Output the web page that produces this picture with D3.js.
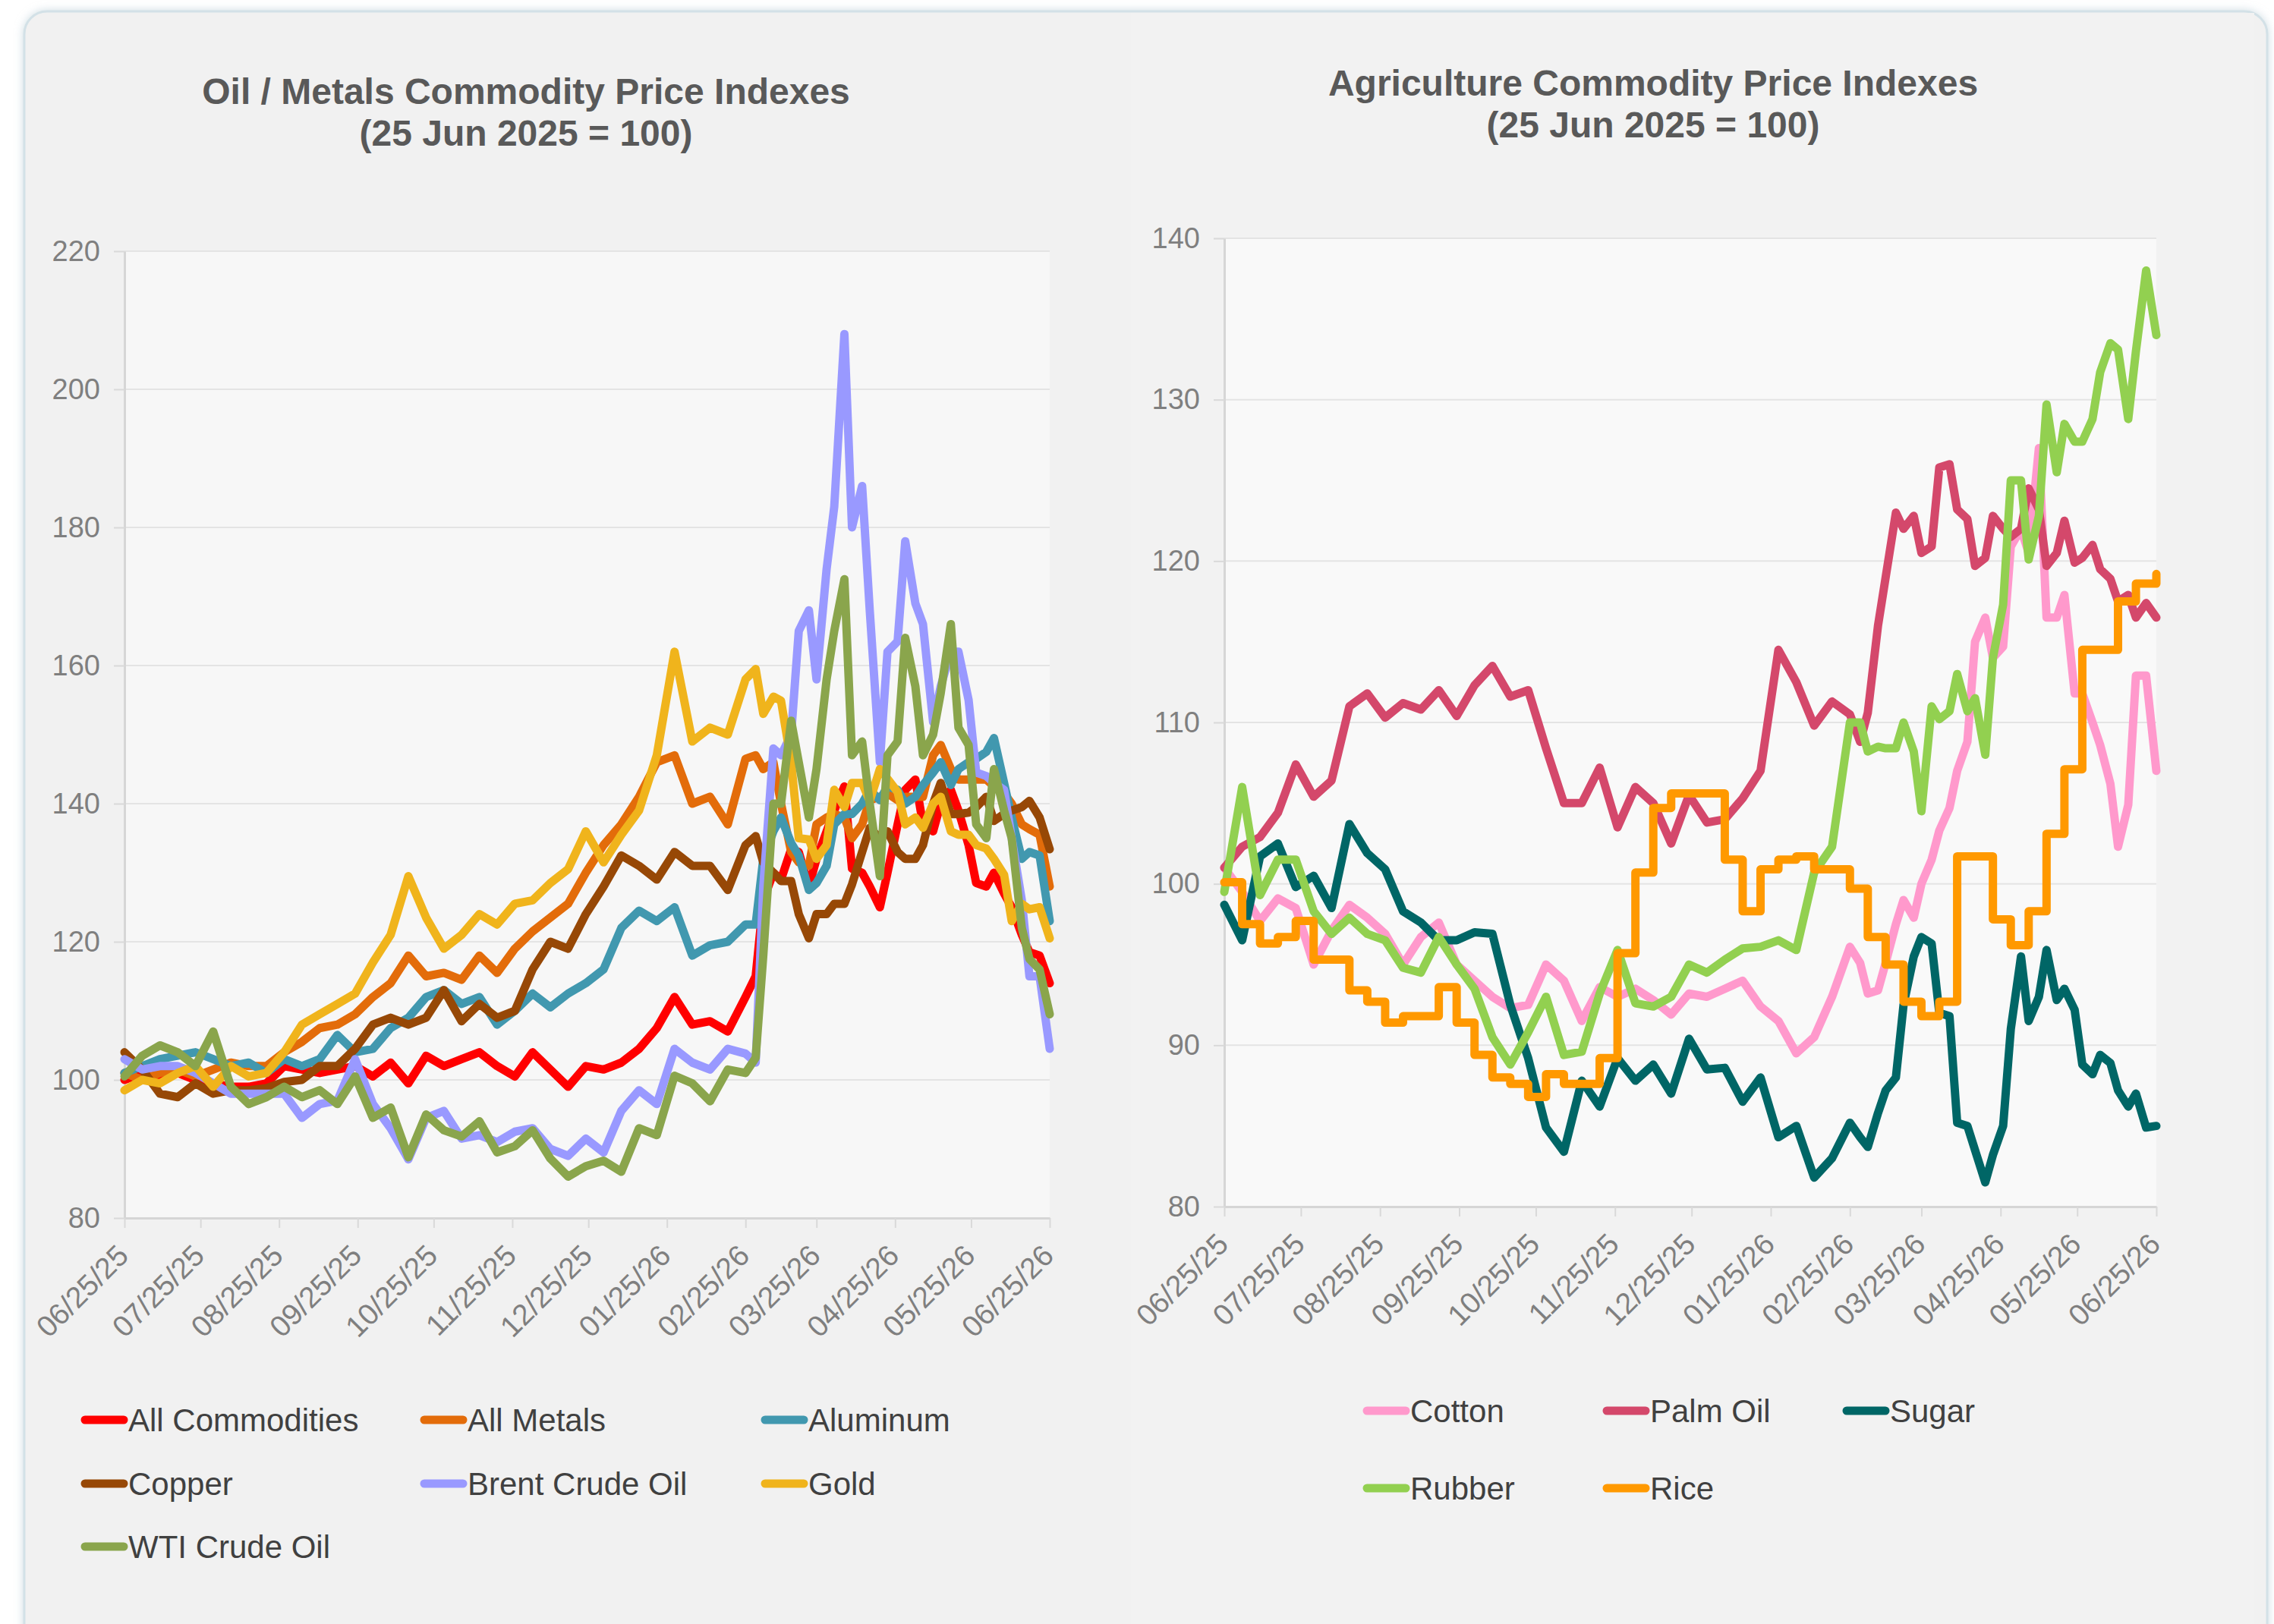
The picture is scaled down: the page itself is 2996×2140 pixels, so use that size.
<!DOCTYPE html>
<html>
<head>
<meta charset="utf-8">
<script src="https://cdn.jsdelivr.net/npm/d3@7"></script>
<style>
  body { margin: 0; background: #ffffff; }
  text { font-family: "Liberation Sans", Arial, sans-serif; }
</style>
</head>
<body>
<svg id="chart" width="2996" height="2140"></svg>
<script>
// shared dates: weekly to end of Feb, then twice a week
const dates = [
  "2025-06-25","2025-07-02","2025-07-09","2025-07-16","2025-07-23","2025-07-30","2025-08-06","2025-08-13",
  "2025-08-20","2025-08-27","2025-09-03","2025-09-10","2025-09-17","2025-09-24","2025-10-01","2025-10-08",
  "2025-10-15","2025-10-22","2025-10-29","2025-11-05","2025-11-12","2025-11-19","2025-11-26","2025-12-03",
  "2025-12-10","2025-12-17","2025-12-24","2025-12-31","2026-01-07","2026-01-14","2026-01-21","2026-01-28",
  "2026-02-04","2026-02-11","2026-02-18","2026-02-25",
  "2026-03-01","2026-03-04","2026-03-08","2026-03-11","2026-03-15","2026-03-18","2026-03-22","2026-03-25",
  "2026-03-29","2026-04-01","2026-04-05","2026-04-08","2026-04-12","2026-04-15","2026-04-19","2026-04-22",
  "2026-04-26","2026-04-29","2026-05-03","2026-05-06","2026-05-10","2026-05-13","2026-05-17","2026-05-20",
  "2026-05-24","2026-05-27","2026-05-31","2026-06-03","2026-06-07","2026-06-10","2026-06-14","2026-06-17",
  "2026-06-21","2026-06-25"
];

const xTickDates = ["2025-06-25","2025-07-25","2025-08-25","2025-09-25","2025-10-25","2025-11-25","2025-12-25",
  "2026-01-25","2026-02-25","2026-03-25","2026-04-25","2026-05-25","2026-06-25"];
const oilTicks = [80, 100, 120, 140, 160, 180, 200, 220];
const agTicks = [80, 90, 100, 110, 120, 130, 140];

// Oil / Metals
const allCommodities = [100,101,100,101,100,99.5,99,99,99.5,102,101.5,101,101.5,102,100.5,102.5,99.5,103.5,102,103,104,102,100.5,104,101.5,99,102,101.5,102.5,104.5,107.5,112,108,108.5,107,112,
  115,126,130,129,133.4,133,128,132,136,139,142.5,130.6,130,128,125,130,137,142,143.5,137,136,140,142,139,134,128.5,128,130,127,125,121,118.5,118,114];
const allMetals = [101,100,101,101.5,100.5,101.5,102.5,102,102,104,105.5,107.5,108,109.5,112,114,118,115,115.5,114.5,118,115.5,119,121.5,123.5,125.5,130,134,137,141,146,147,140,141,137,146.5,
  147,145,146,140,133,131.5,131,137,138,138.5,138,135,137,140.5,141,141.5,140.5,141,141,141,147,148.5,145,143.5,143.5,143.5,143.5,142.5,141.5,140,137,136.3,135.5,128];
const aluminum = [101,102,103,103.5,104,103,102,102.5,101,103,102,103,106.5,104,104.5,107.5,109,112,113,111,112,108,110,112.5,110.5,112.5,114,116,122,124.5,123,125,118,119.5,120,122.5,
  122.5,132,136,138,134.3,132.5,127.5,128.5,131,137,138.5,138.5,140,142,140.5,142.5,142,140,141,142.7,144.5,146,142.7,145,146,146.5,147.5,149.5,143,138,132,133,132.5,123];
const copper = [104,101.5,98,97.5,99.5,98,98.5,98.5,98.8,99.7,100,102,102,104.5,108,109,108,109,113,108.5,111,109,110,116,120,119,124,128,132.5,131,129,133,131,131,127.5,134,
  135.3,131.5,130,128.8,128.8,124,120.5,124,124,125.5,125.5,128.3,133,136.5,135,136,133,132,132,134,140,143,138.5,138.5,138.7,139.5,141,137.5,138.5,139,139.5,140.4,138,133.4];
const brent = [103,101.5,102,102,101,99.5,98,98,98,98,94.5,96.5,97,103,96.5,93,88.5,94.5,95.5,91.5,92,91,92.5,93,90,89,91.5,89.5,95.5,98.5,96.5,104.5,102.5,101.5,104.5,103.8,
  102.5,128,148,147,150,165,168,158,174,183,208,180,186,168,146,162,163.5,178,169,166,151.8,157,162,162,155,144.5,144,143,142,135,126,115,115,104.5];
const gold = [98.5,100,99.5,101,102,99,102,100.5,101,104,108,109.5,111,112.5,117,121,129.5,123.5,119,121,124,122.5,125.5,126,128.5,130.5,136,131.5,135.5,139,147,162,149,151,150,158,
  159.5,153,155.5,154.9,146,135,134.8,132,134,142,139.5,143,143,140.4,145,143.6,141.7,137,138,136.5,140,141,136,135.5,135.5,134,133.5,132,129.7,123,125.5,124.7,125,120.5];
const wti = [100.5,103.5,105,104,102,107,99,96.5,97.5,99,97.5,98.5,96.5,100.5,94.5,96,88.8,95,92.7,91.8,94,89.5,90.4,92.7,88.6,86,87.5,88.3,86.7,93,92,100.6,99.5,96.9,101.5,101,
  103.2,118,140,140,152,146,138,145,158,165,172.5,147,149,140,129.5,147,149,164,157,147,150,156,166,151,148.5,137,135,145,139,135,122,117.5,116,109.5];

// Agriculture
const cotton = [101,99.5,97.7,99.1,98.5,95,97.1,98.7,97.9,96.9,95,96.7,97.6,95,94,93,92.3,92.5,95,94,91.5,93.6,93,93.5,92.8,91.9,93.2,93,93.5,94,92.4,91.5,89.5,90.5,93,96.1,
  95.1,93.2,93.4,95.1,97.5,99,97.9,100,101.5,103.3,104.7,107,108.8,115,116.5,114,114.7,120.9,122,120.5,127,116.5,116.5,117.9,111.8,111.8,110,108.6,106.2,102.3,104.9,112.9,112.9,107];
const palmOil = [101,102.3,102.9,104.4,107.4,105.4,106.4,111,111.8,110.3,111.2,110.8,112,110.4,112.3,113.5,111.6,112,108.4,105,105,107.2,103.5,106,105,102.5,105.5,103.8,104,105.3,107,114.5,112.5,109.8,111.3,110.5,
  108.8,110.6,116,119,123,122,122.8,120.5,120.9,125.8,126,123.2,122.6,119.7,120.2,122.8,122,121.5,122,124.5,123.2,119.7,120.5,122.5,119.9,120.2,121,119.5,118.9,117.5,117.9,116.5,117.4,116.5];
const sugar = [98.7,96.5,101.7,102.5,99.8,100.5,98.5,103.7,101.9,100.9,98.3,97.6,96.5,96.5,97,96.9,92.5,89.2,84.9,83.4,87.8,86.2,89.2,87.8,88.8,87,90.4,88.5,88.6,86.5,88,84.3,85,81.8,83,85.2,
  84.3,83.7,85.8,87.2,88,92.5,95.5,96.7,96.3,92,91.8,85.2,85,83.5,81.5,83.2,85,91,95.5,91.5,93,95.9,92.8,93.5,92.2,88.8,88.2,89.4,88.9,87.2,86.2,87,84.9,85];
const rubber = [99.5,106,99.3,101.5,101.5,98.3,96.9,97.9,96.9,96.5,94.8,94.5,96.7,95,93.5,90.5,88.8,90.8,93,89.4,89.6,93.2,95.9,92.6,92.4,93,95,94.5,95.3,96,96.1,96.5,95.9,100.7,102.3,110,
  110,108.2,108.5,108.4,108.4,110,108.2,104.5,111,110.2,110.7,113,110.7,111.5,108,114,117.3,125,125,120.1,122.8,129.7,125.5,128.5,127.4,127.4,128.8,131.7,133.5,133.1,128.8,133,138,134];
const rice = [100.1,97.5,96.3,96.7,97.7,95.3,95.3,93.4,92.7,91.4,91.8,91.8,93.6,91.4,89.4,88,87.6,86.8,88.2,87.6,87.6,89.2,95.7,100.7,104.7,105.6,105.6,105.6,101.5,98.3,100.9,101.5,101.7,100.9,100.9,99.7,
  99.7,96.7,96.7,95,95,92.7,92.7,91.8,91.8,92.7,92.7,101.7,101.7,101.7,101.7,97.8,97.8,96.2,96.2,98.3,98.3,103.1,103.1,107.1,107.1,114.5,114.5,114.5,114.5,117.5,117.5,118.6,118.6,119.2];

const oilNames = ["All Commodities", "All Metals", "Aluminum", "Copper", "Brent Crude Oil", "Gold", "WTI Crude Oil"];
const oilValues = [allCommodities, allMetals, aluminum, copper, brent, gold, wti];
const oilColors = ["#ff0000", "#e36c0a", "#4198af", "#974806", "#9999ff", "#f0b41c", "#8aa54c"];

const agNames = ["Cotton", "Palm Oil", "Sugar", "Rubber", "Rice"];
const agValues = [cotton, palmOil, sugar, rubber, rice];
const agColors = ["#ff99cc", "#d4486b", "#006666", "#92d050", "#ff9900"];

const parse = d3.timeParse("%Y-%m-%d");
const fmt = d3.timeFormat("%m/%d/%y");
const dateObjs = dates.map(parse);
const tickObjs = xTickDates.map(parse);

const svg = d3.select("#chart");

// card background
const defs = svg.append("defs");
const shadow = defs.append("filter").attr("id", "shadow")
  .attr("x", "-5%").attr("y", "-5%").attr("width", "110%").attr("height", "110%");
shadow.append("feDropShadow").attr("dx", 0).attr("dy", 0).attr("stdDeviation", 6)
  .attr("flood-color", "#b9cdd6").attr("flood-opacity", 0.7);

svg.append("rect").attr("x", 32).attr("y", 15).attr("width", 2955).attr("height", 2200)
  .attr("rx", 30).attr("fill", "#f1f1f1").attr("stroke", "#d3e1e7").attr("stroke-width", 3)
  .attr("filter", "url(#shadow)");
svg.append("rect").attr("x", 1490).attr("y", 17).attr("width", 1480).attr("height", 2200)
  .attr("fill", "#f2f2f2");

function drawPanel(cfg) {
  const g = svg.append("g");

  const x = d3.scaleTime()
    .domain([tickObjs[0], tickObjs[tickObjs.length - 1]])
    .range([cfg.left, cfg.right]);
  const y = d3.scaleLinear()
    .domain([cfg.ticks[0], cfg.ticks[cfg.ticks.length - 1]])
    .range([cfg.bottom, cfg.top]);

  g.append("rect")
    .attr("x", cfg.left).attr("y", cfg.top)
    .attr("width", cfg.right - cfg.left).attr("height", cfg.bottom - cfg.top)
    .attr("fill", cfg.plotBg);

  // gridlines
  g.append("g").selectAll("line")
    .data(cfg.ticks.slice(1))
    .join("line")
    .attr("x1", cfg.left).attr("x2", cfg.right)
    .attr("y1", d => y(d)).attr("y2", d => y(d))
    .attr("stroke", "#e4e4e4").attr("stroke-width", 2);

  // y axis
  const yAxis = g.append("g")
    .attr("transform", `translate(${cfg.left},0)`)
    .call(d3.axisLeft(y).tickValues(cfg.ticks).tickSizeInner(14).tickSizeOuter(0).tickPadding(18));
  yAxis.select(".domain").attr("stroke", "#d6d6d6").attr("stroke-width", 3);
  yAxis.selectAll(".tick line").attr("stroke", "#d9d9d9").attr("stroke-width", 2);
  yAxis.selectAll(".tick text")
    .attr("font-size", 38).attr("fill", "#7f7f7f")
    .style("font-family", "'Liberation Sans', Arial, sans-serif");

  // x axis
  const xAxis = g.append("g")
    .attr("transform", `translate(0,${cfg.bottom})`)
    .call(d3.axisBottom(x).tickValues(tickObjs).tickFormat(fmt).tickSizeInner(13).tickSizeOuter(0));
  xAxis.select(".domain").attr("stroke", "#d6d6d6").attr("stroke-width", 3);
  xAxis.selectAll(".tick line").attr("stroke", "#d9d9d9").attr("stroke-width", 2);
  xAxis.selectAll(".tick text")
    .attr("font-size", 39).attr("fill", "#7f7f7f")
    .style("font-family", "'Liberation Sans', Arial, sans-serif")
    .attr("text-anchor", "end")
    .attr("x", 0).attr("y", 0).attr("dy", 0)
    .attr("transform", "translate(7,52) rotate(-45)");

  // series
  cfg.values.forEach((vals, i) => {
    const pts = vals.map((v, j) => [dateObjs[j], v]);
    const line = d3.line()
      .x(d => x(d[0])).y(d => y(d[1]))
      .curve(cfg.stepIndex === i ? d3.curveStepAfter : d3.curveLinear);
    g.append("path")
      .datum(pts)
      .attr("d", line)
      .attr("fill", "none")
      .attr("stroke", cfg.colors[i])
      .attr("stroke-width", 11)
      .attr("stroke-linejoin", "round")
      .attr("stroke-linecap", "round");
  });

  // title
  g.append("text")
    .attr("x", cfg.titleX).attr("y", cfg.titleY)
    .attr("text-anchor", "middle")
    .attr("font-size", 48).attr("font-weight", "bold").attr("fill", "#595959")
    .selectAll("tspan")
    .data(cfg.title)
    .join("tspan")
    .attr("x", cfg.titleX)
    .attr("dy", (d, i) => i === 0 ? 0 : 55)
    .text(d => d);

  // legend
  const leg = g.append("g");
  cfg.names.forEach((name, i) => {
    const lx = cfg.legendCols[i % cfg.legendCols.length];
    const ly = cfg.legendRows[Math.floor(i / cfg.legendCols.length)];
    leg.append("line")
      .attr("x1", lx + 4).attr("x2", lx + 55)
      .attr("y1", ly).attr("y2", ly)
      .attr("stroke", cfg.colors[i]).attr("stroke-width", 11)
      .attr("stroke-linecap", "round");
    leg.append("text")
      .attr("x", lx + 61).attr("y", ly + 15)
      .attr("font-size", 42).attr("fill", "#404040")
      .text(name);
  });
}

drawPanel({
  left: 164, right: 1383, top: 331, bottom: 1605,
  ticks: oilTicks, plotBg: "#f7f7f7",
  values: oilValues, colors: oilColors, names: oilNames, stepIndex: -1,
  title: ["Oil / Metals Commodity Price Indexes", "(25 Jun 2025 = 100)"],
  titleX: 693, titleY: 137,
  legendCols: [108, 555, 1004], legendRows: [1871, 1955, 2038]
});

drawPanel({
  left: 1613, right: 2841, top: 314, bottom: 1590,
  ticks: agTicks, plotBg: "#f9f9f9",
  values: agValues, colors: agColors, names: agNames, stepIndex: 4,
  title: ["Agriculture Commodity Price Indexes", "(25 Jun 2025 = 100)"],
  titleX: 2178, titleY: 126,
  legendCols: [1797, 2113, 2429], legendRows: [1859, 1961]
});
</script>
</body>
</html>
